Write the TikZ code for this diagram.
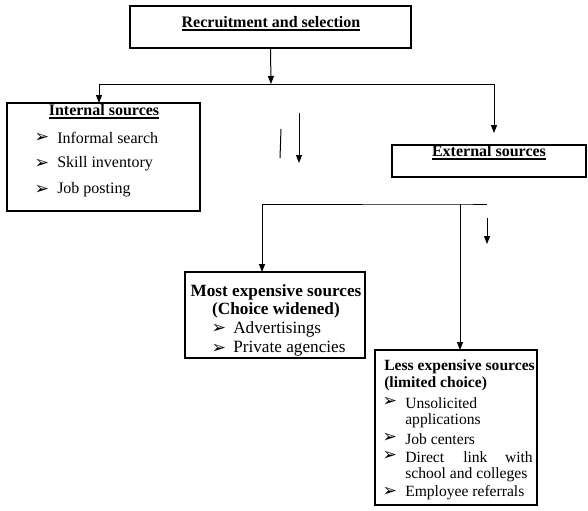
\documentclass[tikz,border=0pt]{standalone}
\usepackage{fontspec}
\setmainfont{Liberation Serif}
\newfontfamily\dejavu{DejaVu Sans}
\usetikzlibrary{arrows.meta}
\newcommand{\bul}{{\dejavu\bfseries\fontsize{13}{14}\selectfont ➢}}
\newcommand{\ul}[1]{\setbox0\hbox{#1}\leavevmode\rlap{\raisebox{-2.6pt}{\rule{\wd0}{1.5pt}}}\box0}
\begin{document}
\begin{tikzpicture}[x=0.75pt,y=-0.75pt,
  box/.style={draw, line width=0.8pt, anchor=north west, inner sep=0pt, outer sep=0pt},
  ctxt/.style={anchor=center, inner sep=0pt, font=\fontsize{12}{14}\selectfont},
  ltxt/.style={anchor=west, inner sep=0pt, font=\fontsize{12}{14}\selectfont},
  mtxt/.style={font=\fontsize{12.9}{15}\selectfont},
  stxt/.style={font=\fontsize{11.7}{14}\selectfont},
  btxt/.style={anchor=center, inner sep=0pt},
  conn/.style={line width=0.75pt},
  arr/.style={line width=0.75pt, -{Triangle[length=6pt,width=4.5pt]}}]
\useasboundingbox (0,0) rectangle (588,510);

% boxes
\node[box, minimum width=210.75pt, minimum height=31.5pt] (top) at (130,6) {};
\node[box, minimum width=144.75pt, minimum height=81pt] (int) at (7,103) {};
\node[box, minimum width=145.5pt, minimum height=24pt] (ext) at (392,145) {};
\node[box, minimum width=135pt, minimum height=64.5pt] (most) at (185,272) {};
\node[box, minimum width=121.5pt, minimum height=116.25pt] (less) at (375,350) {};

% texts
\node[ctxt] (t1) at (271,24) {\bfseries\ul{Recruitment and selection}};
\node[ctxt] (t2) at (104,112) {\bfseries\ul{Internal sources}};
\node[btxt] (b21) at (42,138) {\bul};
\node[ltxt] (t21) at (57,138) {Informal search};
\node[btxt] (b22) at (42,164) {\bul};
\node[ltxt] (t22) at (57,164) {Skill inventory};
\node[btxt] (b23) at (42,190) {\bul};
\node[ltxt] (t23) at (57,190) {Job posting};

\node[ctxt] (t3) at (489,153) {\bfseries\ul{External sources}};

\node[ctxt, mtxt] (t4) at (276,292) {\bfseries Most expensive sources};
\node[ctxt, mtxt] (t4b) at (276,310) {\bfseries (Choice widened)};
\node[btxt] (b41) at (219,329) {\bul};
\node[ltxt, mtxt] (t41) at (233,329) {Advertisings};
\node[btxt] (b42) at (219,349) {\bul};
\node[ltxt, mtxt] (t42) at (233,349) {Private agencies};

\node[ltxt, stxt] (t5) at (384,367) {\bfseries Less expensive sources};
\node[ltxt, stxt] (t5b) at (384,384) {\bfseries (limited choice)};
\node[btxt] (b51) at (390,402) {\bul};
\node[ltxt, stxt] (t51) at (405,403) {Unsolicited};
\node[ltxt, stxt] (t51b) at (405,421) {applications};
\node[btxt] (b52) at (390,438) {\bul};
\node[ltxt, stxt] (t52) at (405,439) {Job centers};
\node[btxt] (b53) at (390,456) {\bul};
\node[ltxt, stxt] (t53) at (405,457) {Direct};
\node[ltxt, stxt] (t53b) at (463,457) {link};
\node[anchor=east, inner sep=0pt, stxt] (t53c) at (533,457) {with};
\node[ltxt, stxt] (t53d) at (405,475) {school and colleges};
\node[btxt] (b54) at (390,492) {\bul};
\node[ltxt, stxt] (t54) at (405,493) {Employee referrals};

% connectors
\coordinate (split) at (271,84);
\coordinate (intn) at (99,103);
\coordinate (extn) at (494,133);
\draw[arr] (top.south) -- (split);
\draw[arr] (split) -| (intn);
\draw[arr] (split) -| (extn);

\coordinate (s1) at (281,129);
\coordinate (s2) at (280,158);
\draw[conn] (s1) -- (s2);
\coordinate (a1) at (299,113);
\coordinate (a2) at (299,163);
\draw[arr] (a1) -- (a2);

\coordinate (h1) at (487,204);
\coordinate (h2) at (460,204);
\coordinate (mostn) at (262,272);
\coordinate (lessn) at (460,350);
\draw[arr] (h1) -- (h2) -| (mostn);
\draw[arr] (h2) -- (lessn);
\coordinate (a3) at (487,218);
\coordinate (a4) at (487,244);
\draw[arr] (a3) -- (a4);
\end{tikzpicture}
\end{document}
